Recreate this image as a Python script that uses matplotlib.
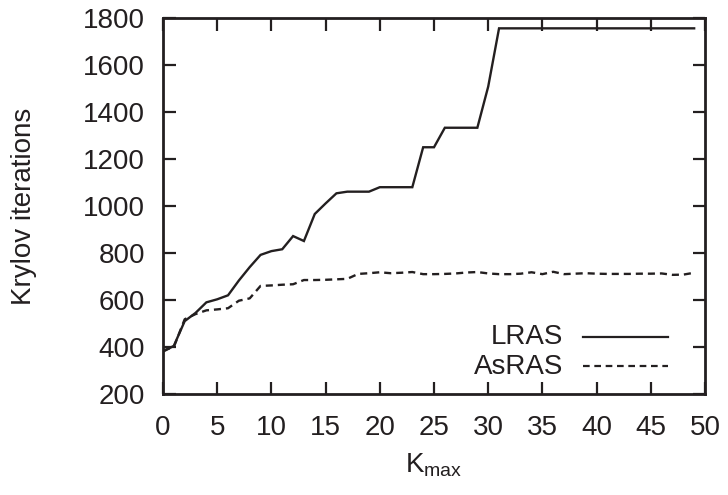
import matplotlib
matplotlib.use("Agg")
import matplotlib.pyplot as plt

plt.rcParams['font.family'] = ['Liberation Sans', 'DejaVu Sans']
plt.rcParams['mathtext.fontset'] = 'custom'
plt.rcParams['mathtext.rm'] = 'Liberation Sans'
plt.rcParams['mathtext.it'] = 'Liberation Sans'

kmax = list(range(0, 50))
lras = [380, 405, 510, 545, 590, 603, 620, 683, 740, 792,
        808, 816, 872, 851, 966, 1011, 1054, 1061, 1061, 1061,
        1080, 1080, 1080, 1080, 1250, 1250, 1333, 1333, 1333, 1333,
        1508, 1756, 1756, 1756, 1756, 1756, 1756, 1756, 1756, 1756,
        1756, 1756, 1756, 1756, 1756, 1756, 1756, 1756, 1756, 1756]
asras = [385, 400, 518, 540, 556, 560, 565, 597, 607, 660,
         662, 665, 667, 685, 685, 686, 688, 690, 711, 714,
         718, 714, 716, 719, 710, 710, 711, 713, 717, 719,
         713, 710, 710, 712, 718, 710, 720, 710, 712, 714,
         712, 711, 711, 711, 712, 712, 713, 707, 708, 716]

xticks = list(range(0, 51, 5))
yticks = list(range(200, 1801, 200))

ink = '#231f20'
fs = 20

fig = plt.figure(figsize=(7.28, 4.95), dpi=100)
ax = fig.add_axes([163/728, 1 - 394/495, 542/728, 376/495])

ax.plot(kmax, lras, color=ink, lw=1.7, solid_joinstyle='miter')
ax.plot(kmax, asras, color=ink, lw=1.7, dashes=(3.0, 2.1))

ax.set_xlim(0, 50)
ax.set_ylim(200, 1800)
ax.set_xticks(xticks)
ax.set_yticks(yticks)

for s in ax.spines.values():
    s.set_linewidth(2.0)
    s.set_color(ink)

ax.tick_params(axis='both', which='major', direction='in', length=9, width=1.6,
               color=ink, labelcolor=ink, labelsize=fs, top=True, right=True)
ax.tick_params(axis='x', pad=15)
ax.tick_params(axis='y', pad=13)

ax.set_xlabel(r'$\mathrm{K_{max}}$', fontsize=fs, color=ink, labelpad=8)
ax.set_ylabel('Krylov iterations', fontsize=fs, color=ink, labelpad=33)

# legend (gnuplot style: right-aligned text then sample)
ax.text(0.738, 0.152, 'LRAS', transform=ax.transAxes, ha='right', va='center',
        fontsize=fs, color=ink)
ax.text(0.738, 0.072, 'AsRAS', transform=ax.transAxes, ha='right', va='center',
        fontsize=fs, color=ink)
ax.plot([0.775, 0.932], [0.152, 0.152], transform=ax.transAxes, color=ink, lw=1.6)
ax.plot([0.775, 0.932], [0.0745, 0.0745], transform=ax.transAxes, color=ink, lw=1.6,
        dashes=(3.0, 2.1))

fig.savefig('out.png', dpi=100)
